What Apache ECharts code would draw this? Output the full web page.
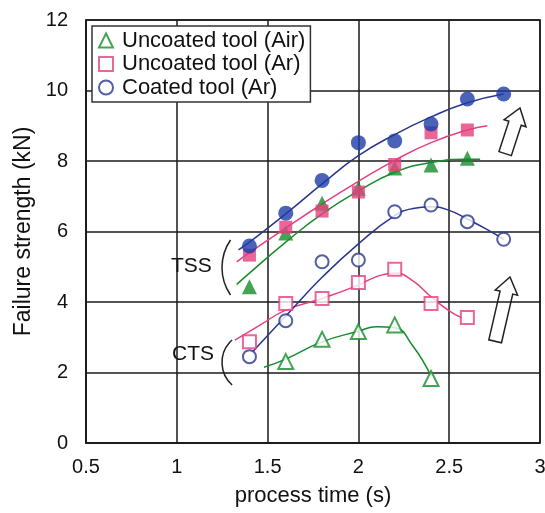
<!DOCTYPE html>
<html>
<head>
<meta charset="utf-8">
<title>Failure strength vs process time</title>
<script src="https://cdn.jsdelivr.net/npm/echarts@6/dist/echarts.min.js"></script>
<style>
html, body { margin: 0; padding: 0; background: #fff; }
#main { width: 545px; height: 513px; }
</style>
</head>
<body>
<div id="main"></div>
<script>
// axis ticks
var xTicks = [0.5, 1, 1.5, 2, 2.5, 3];
var yTicks = [0, 2, 4, 6, 8, 10, 12];

// names in legend
var nameAir = 'Uncoated tool (Air)';
var nameAr = 'Uncoated tool (Ar)';
var nameCoat = 'Coated tool (Ar)';

// TSS (filled marks) [process time, kN]
var tssAir = [[1.4, 4.43], [1.6, 5.96], [1.8, 6.8], [2.0, 7.23], [2.2, 7.8], [2.4, 7.89], [2.6, 8.08]];
var tssAr = [[1.4, 5.33], [1.6, 6.12], [1.8, 6.58], [2.0, 7.12], [2.2, 7.9], [2.4, 8.8], [2.6, 8.88]];
var tssCoat = [[1.4, 5.59], [1.6, 6.52], [1.8, 7.45], [2.0, 8.52], [2.2, 8.57], [2.4, 9.05], [2.6, 9.76], [2.8, 9.9]];

// CTS (open marks)
var ctsAir = [[1.6, 2.31], [1.8, 2.94], [2.0, 3.16], [2.2, 3.35], [2.4, 1.83]];
var ctsAr = [[1.4, 2.87], [1.6, 3.96], [1.8, 4.1], [2.0, 4.55], [2.2, 4.93], [2.4, 3.96], [2.6, 3.56]];
var ctsCoat = [[1.4, 2.45], [1.6, 3.47], [1.8, 5.14], [2.0, 5.19], [2.2, 6.56], [2.4, 6.75], [2.6, 6.28], [2.8, 5.78]];

// fitted curves
var fitTssAir = [[1.33, 4.5], [1.4, 4.82], [1.6, 5.7], [1.8, 6.5], [2.0, 7.15], [2.2, 7.68], [2.4, 7.96], [2.6, 8.05], [2.67, 8.05]];
var fitTssAr = [[1.33, 5.14], [1.4, 5.4], [1.6, 6.1], [1.8, 6.78], [2.0, 7.42], [2.2, 8.02], [2.4, 8.52], [2.6, 8.88], [2.71, 9.0]];
var fitTssCoat = [[1.34, 5.48], [1.4, 5.7], [1.6, 6.5], [1.8, 7.35], [2.0, 8.15], [2.2, 8.75], [2.4, 9.25], [2.6, 9.65], [2.8, 9.9]];
var fitCtsAir = [[1.48, 2.15], [1.6, 2.38], [1.8, 2.87], [2.0, 3.17], [2.1, 3.3], [2.2, 3.27], [2.3, 2.75], [2.4, 1.9]];
var fitCtsAr = [[1.32, 2.92], [1.46, 3.35], [1.6, 3.77], [1.8, 4.1], [2.0, 4.48], [2.1, 4.72], [2.2, 4.82], [2.3, 4.6], [2.4, 4.15], [2.5, 3.75], [2.57, 3.55]];
var fitCtsCoat = [[1.42, 2.6], [1.6, 3.6], [1.8, 4.7], [2.0, 5.65], [2.2, 6.45], [2.3, 6.65], [2.4, 6.7], [2.5, 6.6], [2.6, 6.35], [2.7, 6.08], [2.8, 5.78]];

var green = '#168c2c';
var pink = '#e5407e';
var blue = '#1d3ca6';
var navy = '#28368c';
var font = 'Liberation Sans, Arial, sans-serif';

function marks(name, data, symbol, size, color, filled) {
	return {
		name: name,
		type: 'scatter',
		data: data,
		symbol: symbol,
		symbolSize: size,
		z: 5,
		itemStyle: filled ? { color: color, borderWidth: 0 } : { color: '#fff', borderColor: color, borderWidth: 2 }
	};
}

function fit(data, color) {
	return {
		name: 'fit',
		type: 'line',
		data: data,
		smooth: 0.5,
		showSymbol: false,
		silent: true,
		z: 3,
		lineStyle: { color: color, width: 1.5 }
	};
}

// hollow arrow pointing up, tip at origin, tilted right by deg
function arrow(x, y, len, deg) {
	return {
		type: 'polygon',
		x: x, y: y,
		rotation: -deg * Math.PI / 180,
		shape: { points: [[0, 0], [11.5, 16], [6.5, 16], [6.5, len], [-6.5, len], [-6.5, 16], [-11.5, 16]] },
		style: { fill: '#fff', stroke: '#222', lineWidth: 1.5 }
	};
}

var chart = echarts.init(document.getElementById('main'));

var option = {
	backgroundColor: '#fff',
	animation: false,
	grid: { left: 86, right: 5, top: 20, bottom: 70, containLabel: false, outerBoundsMode: 'none',
		show: true, borderColor: '#1a1a1a', borderWidth: 1.5 },
	legend: {
		data: [nameAir, nameAr, nameCoat],
		orient: 'vertical',
		left: 92, top: 26,
		padding: [3, 5, 3, 6],
		itemGap: 0.5,
		itemWidth: 14, itemHeight: 14,
		borderColor: '#333', borderWidth: 1.5,
		backgroundColor: '#fff',
		textStyle: { fontFamily: font, fontSize: 22, color: '#111', lineHeight: 23, padding: [0, 0, 0, 4] }
	},
	xAxis: {
		type: 'value', min: 0.5, max: 3, interval: 0.5,
		name: 'process time (s)', nameLocation: 'middle', nameGap: 42,
		nameTextStyle: { fontFamily: font, fontSize: 22, color: '#111' },
		axisLine: { show: true, onZero: false, lineStyle: { color: '#1a1a1a', width: 1.5 } },
		axisTick: { show: false },
		axisLabel: { fontFamily: font, fontSize: 20, color: '#111', margin: 14,
			formatter: function (v) { return xTicks.indexOf(v) >= 0 ? String(v) : ''; } },
		splitLine: { show: true, lineStyle: { color: '#1a1a1a', width: 1.5 } }
	},
	yAxis: {
		type: 'value', min: 0, max: 12, interval: 2,
		name: 'Failure strength (kN)', nameLocation: 'middle', nameGap: 48,
		nameTextStyle: { fontFamily: font, fontSize: 23, color: '#111' },
		axisLine: { show: true, lineStyle: { color: '#1a1a1a', width: 1.5 } },
		axisTick: { show: false },
		axisLabel: { fontFamily: font, fontSize: 20, color: '#111', margin: 18,
			formatter: function (v) { return yTicks.indexOf(v) >= 0 ? String(v) : ''; } },
		splitLine: { show: true, lineStyle: { color: '#1a1a1a', width: 1.5 } }
	},
	series: [
		marks(nameAir, ctsAir, 'triangle', 15, green, false),
		marks(nameAr, ctsAr, 'rect', 13, pink, false),
		marks(nameCoat, ctsCoat, 'circle', 13, navy, false),
		marks(nameAir, tssAir, 'triangle', 15, green, true),
		marks(nameAr, tssAr, 'rect', 13, pink, true),
		marks(nameCoat, tssCoat, 'circle', 15, blue, true),
		fit(fitTssAir, green),
		fit(fitTssAr, pink),
		fit(fitTssCoat, navy),
		fit(fitCtsAir, green),
		fit(fitCtsAr, pink),
		fit(fitCtsCoat, navy)
	],
	graphic: [
		{ type: 'text', x: 171, y: 256, style: { text: 'TSS', font: '21px ' + font, fill: '#111' } },
		{ type: 'text', x: 172, y: 344, style: { text: 'CTS', font: '21px ' + font, fill: '#111' } },
		{ type: 'arc', shape: { cx: 270.7, cy: 267.5, r: 48.7, startAngle: Math.PI - 0.6, endAngle: Math.PI + 0.6 },
			style: { stroke: '#222', lineWidth: 1.5, fill: null } },
		{ type: 'arc', shape: { cx: 252.3, cy: 362.5, r: 30.3, startAngle: Math.PI - 0.84, endAngle: Math.PI + 0.84 },
			style: { stroke: '#222', lineWidth: 1.5, fill: null } },
		arrow(520, 108, 48, 18),
		arrow(510, 277, 66, 13)
	]
};

chart.setOption(option);
</script>
</body>
</html>
